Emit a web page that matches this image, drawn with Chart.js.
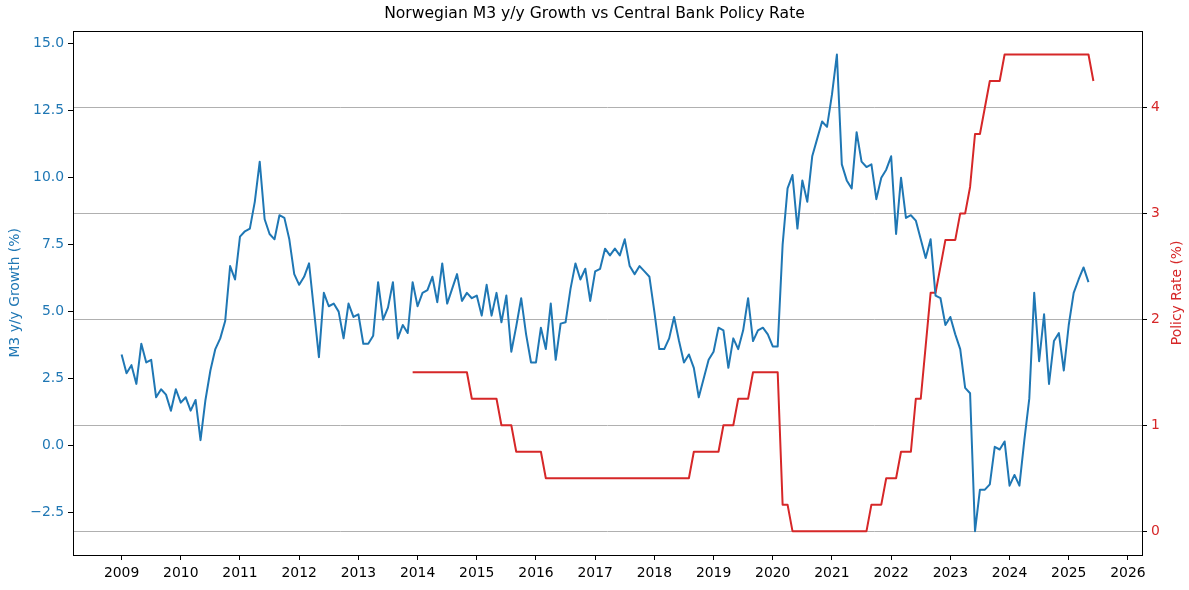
<!DOCTYPE html>
<html>
<head>
<meta charset="utf-8">
<title>Norwegian M3 y/y Growth vs Central Bank Policy Rate</title>
<script src="https://cdn.jsdelivr.net/npm/chart.js@4.4.1/dist/chart.umd.min.js"></script>
<style>
  html, body { margin: 0; padding: 0; background: #fff; }
  #wrap { width: 1189px; height: 590px; position: relative; }
</style>
</head>
<body>
<div id="wrap"><canvas id="chart"></canvas></div>
<script>
// M3 y/y growth (%), monthly from Jan 2009
const m3Start = { year: 2009, month: 1 };
const m3Growth = [
  3.4, 2.7, 3.0, 2.3, 3.8, 3.1, 3.2, 1.8, 2.1, 1.9, 1.3, 2.1,       // 2009
  1.6, 1.8, 1.3, 1.7, 0.2, 1.7, 2.8, 3.6, 4.0, 4.65, 6.7, 6.2,      // 2010
  7.8, 8.0, 8.1, 9.1, 10.6, 8.45, 7.9, 7.7, 8.6, 8.5, 7.7, 6.4,     // 2011
  6.0, 6.3, 6.8, 5.05, 3.3, 5.7, 5.2, 5.3, 5.0, 4.0, 5.3, 4.8,      // 2012
  4.9, 3.8, 3.8, 4.1, 6.1, 4.7, 5.15, 6.1, 4.0, 4.5, 4.2, 6.1,      // 2013
  5.2, 5.7, 5.8, 6.3, 5.35, 6.8, 5.3, 5.85, 6.4, 5.4, 5.7, 5.5,     // 2014
  5.6, 4.85, 6.0, 4.85, 5.7, 4.6, 5.6, 3.5, 4.45, 5.5, 4.15, 3.1,   // 2015
  3.1, 4.4, 3.6, 5.3, 3.2, 4.55, 4.6, 5.85, 6.8, 6.2, 6.6, 5.4,     // 2016
  6.5, 6.6, 7.35, 7.1, 7.35, 7.1, 7.7, 6.7, 6.4, 6.7, 6.5, 6.3,     // 2017
  5.0, 3.6, 3.6, 4.0, 4.8, 3.9, 3.1, 3.4, 2.9, 1.8, 2.5, 3.2,       // 2018
  3.5, 4.4, 4.3, 2.9, 4.0, 3.6, 4.3, 5.5, 3.9, 4.3, 4.4, 4.15,      // 2019
  3.7, 3.7, 7.5, 9.6, 10.1, 8.1, 9.9, 9.1, 10.8, 11.45, 12.1, 11.9, // 2020
  13.1, 14.6, 10.5, 9.9, 9.6, 11.7, 10.6, 10.4, 10.5, 9.2, 10.0, 10.3, // 2021
  10.8, 7.9, 10.0, 8.5, 8.6, 8.4, 7.7, 7.0, 7.7, 5.6, 5.5, 4.5,     // 2022
  4.8, 4.15, 3.6, 2.15, 1.95, -3.2, -1.65, -1.65, -1.45, -0.05, -0.15, 0.15, // 2023
  -1.5, -1.1, -1.5, 0.2, 1.75, 5.7, 3.15, 4.9, 2.3, 3.9, 4.2, 2.8,  // 2024
  4.5, 5.7, 6.2, 6.65, 6.1                                          // 2025
];

// Policy rate (%), monthly from Dec 2013
const rateStart = { year: 2013, month: 12 };
const policyRate = [
  1.5,                                                                  // 2013
  1.5, 1.5, 1.5, 1.5, 1.5, 1.5, 1.5, 1.5, 1.5, 1.5, 1.5, 1.25,          // 2014
  1.25, 1.25, 1.25, 1.25, 1.25, 1.0, 1.0, 1.0, 0.75, 0.75, 0.75, 0.75,  // 2015
  0.75, 0.75, 0.5, 0.5, 0.5, 0.5, 0.5, 0.5, 0.5, 0.5, 0.5, 0.5,         // 2016
  0.5, 0.5, 0.5, 0.5, 0.5, 0.5, 0.5, 0.5, 0.5, 0.5, 0.5, 0.5,           // 2017
  0.5, 0.5, 0.5, 0.5, 0.5, 0.5, 0.5, 0.5, 0.75, 0.75, 0.75, 0.75,       // 2018
  0.75, 0.75, 1.0, 1.0, 1.0, 1.25, 1.25, 1.25, 1.5, 1.5, 1.5, 1.5,      // 2019
  1.5, 1.5, 0.25, 0.25, 0, 0, 0, 0, 0, 0, 0, 0,                         // 2020
  0, 0, 0, 0, 0, 0, 0, 0, 0.25, 0.25, 0.25, 0.5,                        // 2021
  0.5, 0.5, 0.75, 0.75, 0.75, 1.25, 1.25, 1.75, 2.25, 2.25, 2.5, 2.75,  // 2022
  2.75, 2.75, 3.0, 3.0, 3.25, 3.75, 3.75, 4.0, 4.25, 4.25, 4.25, 4.5,   // 2023
  4.5, 4.5, 4.5, 4.5, 4.5, 4.5, 4.5, 4.5, 4.5, 4.5, 4.5, 4.5,           // 2024
  4.5, 4.5, 4.5, 4.5, 4.5, 4.25                                         // 2025
];

const yearTicks = [2009, 2010, 2011, 2012, 2013, 2014, 2015, 2016, 2017,
  2018, 2019, 2020, 2021, 2022, 2023, 2024, 2025, 2026];
const growthTicks = [-2.5, 0, 2.5, 5, 7.5, 10, 12.5, 15];
const rateTicks = [0, 1, 2, 3, 4];

const BLUE = '#1f77b4';
const RED = '#d62728';
const FONT = '"DejaVu Sans", "Liberation Sans", sans-serif';
const TICK_SIZE = 13.9;

// month offset -> fractional year, so the x axis is a plain linear scale
const toPoints = (start, values) => values.map((v, i) => ({
  x: start.year + (start.month - 1 + i) / 12,
  y: v
}));

const m3Points = toPoints(m3Start, m3Growth);
const ratePoints = toPoints(rateStart, policyRate);

// matplotlib-like 5% margins around the data
const padRange = (lo, hi) => {
  const m = (hi - lo) * 0.05;
  return [lo - m, hi + m];
};
const allX = m3Points.concat(ratePoints).map(p => p.x);
const [xMin, xMax] = padRange(Math.min(...allX), Math.max(...allX));
const [gMin, gMax] = padRange(Math.min(...m3Growth), Math.max(...m3Growth));
const [rMin, rMax] = padRange(Math.min(...policyRate), Math.max(...policyRate));

const fmtGrowth = v => (v < 0 ? '\u2212' : '') + Math.abs(v).toFixed(1);

Chart.defaults.font.family = FONT;
Chart.defaults.color = '#000';

// draws the axes box and the right axis label (reads bottom to top)
const framePlugin = {
  id: 'frame',
  afterDatasetsDraw(chart) {
    const { ctx, chartArea: a } = chart;
    ctx.save();
    ctx.strokeStyle = '#000';
    ctx.lineWidth = 1;
    ctx.strokeRect(Math.round(a.left) + 0.5, Math.round(a.top) + 0.5,
      Math.round(a.right - a.left), Math.round(a.bottom - a.top));
    ctx.translate(chart.width - 12, (a.top + a.bottom) / 2);
    ctx.rotate(-Math.PI / 2);
    ctx.fillStyle = RED;
    ctx.font = TICK_SIZE + 'px ' + FONT;
    ctx.textAlign = 'center';
    ctx.textBaseline = 'middle';
    ctx.fillText('Policy Rate (%)', 0, 0);
    ctx.restore();
  }
};

new Chart(document.getElementById('chart'), {
  type: 'line',
  data: {
    datasets: [
      {
        label: 'M3 y/y Growth (%)',
        data: m3Points,
        yAxisID: 'y',
        borderColor: BLUE,
        borderWidth: 2,
        pointRadius: 0,
        tension: 0,
        borderJoinStyle: 'round'
      },
      {
        label: 'Policy Rate (%)',
        data: ratePoints,
        yAxisID: 'y2',
        borderColor: RED,
        borderWidth: 2,
        pointRadius: 0,
        tension: 0,
        borderJoinStyle: 'round'
      }
    ]
  },
  options: {
    responsive: true,
    maintainAspectRatio: false,
    animation: false,
    layout: { padding: 0 },
    plugins: {
      legend: { display: false },
      tooltip: { enabled: false },
      title: {
        display: true,
        text: 'Norwegian M3 y/y Growth vs Central Bank Policy Rate',
        color: '#000',
        font: { size: 15.6, weight: 'normal', family: FONT },
        padding: { top: 5, bottom: 7 }
      }
    },
    scales: {
      x: {
        type: 'linear',
        min: xMin,
        max: xMax,
        afterBuildTicks: s => { s.ticks = yearTicks.map(v => ({ value: v })); },
        afterFit: s => { s.height = 35; },
        ticks: {
          autoSkip: false,
          maxRotation: 0,
          padding: 5,
          color: '#000',
          font: { size: TICK_SIZE },
          callback: v => String(v)
        },
        grid: { drawOnChartArea: false, tickLength: 5, tickColor: '#000', tickWidth: 1 },
        border: { display: false }
      },
      y: {
        position: 'left',
        min: gMin,
        max: gMax,
        afterBuildTicks: s => { s.ticks = growthTicks.map(v => ({ value: v })); },
        afterFit: s => { s.width = 73; },
        ticks: {
          padding: 4,
          color: BLUE,
          font: { size: TICK_SIZE },
          callback: v => fmtGrowth(v)
        },
        title: {
          display: true,
          text: 'M3 y/y Growth (%)',
          color: BLUE,
          font: { size: TICK_SIZE },
          padding: { top: 7, bottom: 0 }
        },
        grid: { drawOnChartArea: false, tickLength: 5, tickColor: '#000', tickWidth: 1 },
        border: { display: false }
      },
      y2: {
        position: 'right',
        min: rMin,
        max: rMax,
        afterBuildTicks: s => { s.ticks = rateTicks.map(v => ({ value: v })); },
        afterFit: s => { s.width = 47; },
        ticks: {
          padding: 4,
          color: RED,
          font: { size: TICK_SIZE },
          callback: v => String(v)
        },
        grid: {
          drawOnChartArea: true,
          color: '#b0b0b0',
          lineWidth: 1,
          tickLength: 5,
          tickColor: '#000',
          tickWidth: 1
        },
        border: { display: false }
      }
    }
  },
  plugins: [framePlugin]
});
</script>
</body>
</html>
